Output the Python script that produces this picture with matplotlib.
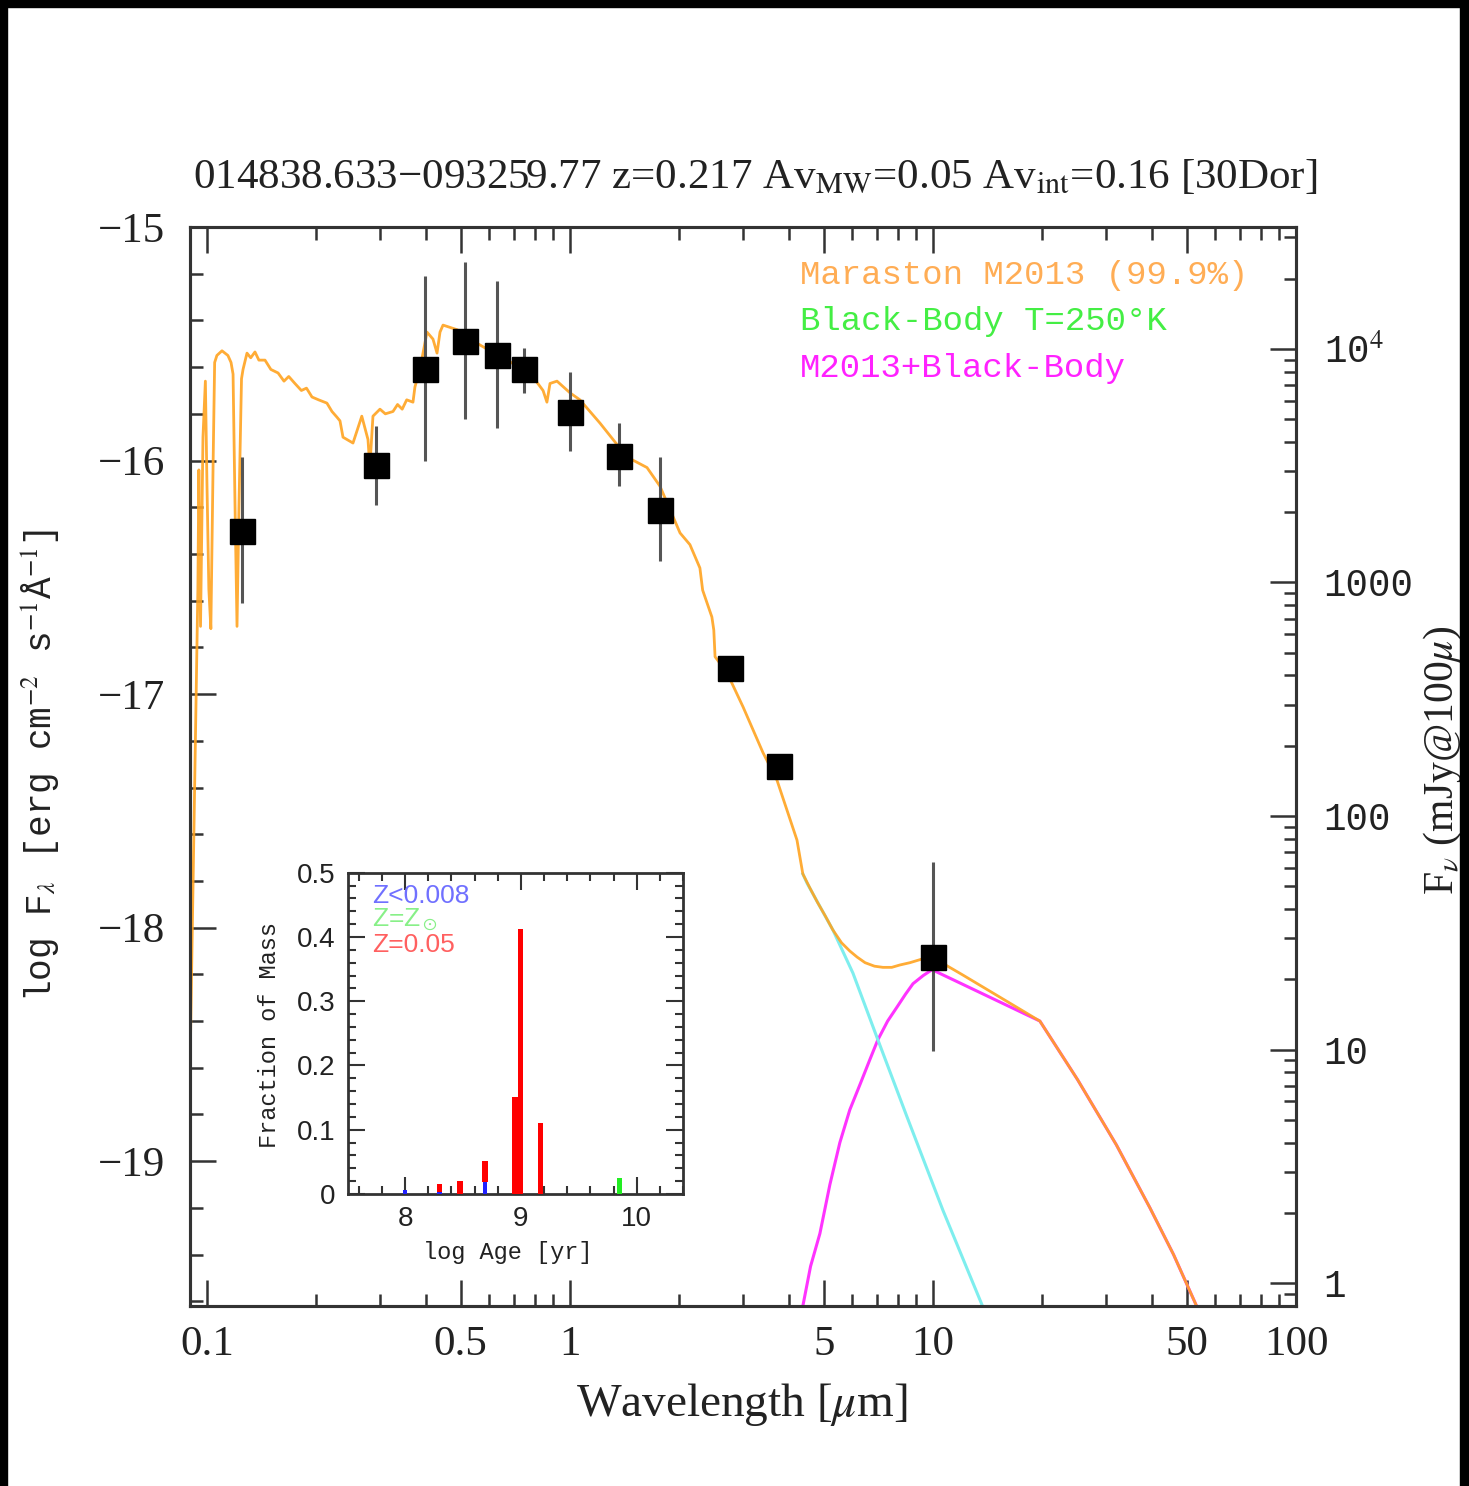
import numpy as np
import matplotlib
matplotlib.use('Agg')
import matplotlib.pyplot as plt
from matplotlib.ticker import FixedLocator, MultipleLocator, NullFormatter
from matplotlib.patches import Rectangle

plt.rcParams['font.family'] = ['Liberation Serif', 'DejaVu Serif']
plt.rcParams['mathtext.fontset'] = 'stix'

# model SED (Maraston M2013 + black body), wavelength in micron, log F_lambda
wave_model = [0.0898, 0.0944, 0.0950, 0.0960, 0.0975, 0.0990, 0.1000, 0.1012, 0.1025, 0.1040,
              0.1050, 0.1065, 0.110, 0.1142, 0.1165, 0.118, 0.1195, 0.1210, 0.1225, 0.1245,
              0.1257, 0.1289, 0.132, 0.1356, 0.139, 0.1445, 0.150, 0.157, 0.163, 0.168,
              0.1747, 0.182, 0.188, 0.1947, 0.203, 0.214, 0.221, 0.228, 0.2325, 0.237,
              0.2525, 0.267, 0.2777, 0.281, 0.2866, 0.2996, 0.31, 0.3254, 0.335, 0.345,
              0.355, 0.3694, 0.374, 0.386, 0.4037, 0.4194, 0.4303, 0.4385, 0.447, 0.489,
              0.530, 0.602, 0.670, 0.776, 0.843, 0.864, 0.881, 0.921, 1.0, 1.065,
              1.21, 1.436, 1.63, 1.77, 2.01, 2.14, 2.28, 2.32, 2.46, 2.49,
              2.51, 2.71, 3.00, 3.40, 3.72, 4.22, 4.38, 4.58, 4.80, 5.05,
              5.30, 5.60, 5.90, 6.18, 6.50, 6.90, 7.28, 7.70, 8.10, 8.64,
              9.30, 9.94, 12.0, 15.0, 19.7, 25.0, 32.0, 39.6, 46.0, 53.4, 60.0]
logf_model = [-18.61, -16.55, -16.04, -16.71, -15.90, -15.66, -16.10, -16.55, -16.72, -16.00,
              -15.58, -15.55, -15.53, -15.55, -15.58, -15.63, -16.20, -16.71, -16.20, -15.65,
              -15.61, -15.54, -15.56, -15.535, -15.57, -15.57, -15.61, -15.625, -15.66, -15.64,
              -15.67, -15.70, -15.69, -15.728, -15.74, -15.754, -15.79, -15.814, -15.83, -15.90,
              -15.925, -15.81, -15.91, -16.03, -15.81, -15.78, -15.80, -15.79, -15.76, -15.78,
              -15.74, -15.75, -15.685, -15.61, -15.45, -15.48, -15.54, -15.45, -15.42, -15.44,
              -15.48, -15.53, -15.57, -15.625, -15.70, -15.75, -15.67, -15.66, -15.71, -15.74,
              -15.84, -15.985, -16.03, -16.11, -16.31, -16.36, -16.46, -16.555, -16.67, -16.726,
              -16.84, -16.91, -17.056, -17.25, -17.37, -17.625, -17.77, -17.83, -17.89, -17.95,
              -18.01, -18.065, -18.10, -18.126, -18.15, -18.165, -18.17, -18.17, -18.16, -18.15,
              -18.135, -18.126, -18.20, -18.29, -18.40, -18.65, -18.93, -19.20, -19.40, -19.625, -19.90]

# stellar component alone (cyan) beyond the dust bump
wave_star = [4.38, 4.50, 5.30, 6.02, 7.01, 8.48, 10.65, 13.73, 15.0]
logf_star = [-17.77, -17.81, -18.01, -18.195, -18.47, -18.81, -19.21, -19.625, -19.78]

# black-body / combined (magenta)
wave_bb = [4.25, 4.38, 4.60, 4.88, 5.20, 5.54, 5.90, 6.30, 6.70, 7.05, 7.50, 7.96, 8.40, 8.81,
           9.40, 9.94, 19.7, 25.0, 32.0, 39.6, 46.0, 53.4, 60.0]
logf_bb = [-19.95, -19.62, -19.45, -19.31, -19.10, -18.92, -18.78, -18.67, -18.565, -18.48,
           -18.40, -18.34, -18.285, -18.24, -18.205, -18.18, -18.40, -18.65, -18.93, -19.20,
           -19.40, -19.625, -19.90]

# photometry
phot_wave = [0.125, 0.292, 0.399, 0.514, 0.630, 0.747, 1.0, 1.365, 1.77, 2.76, 3.77, 10.0]
phot_logf = [-16.30, -16.02, -15.61, -15.49, -15.55, -15.61, -15.79, -15.98, -16.21, -16.89, -17.31, -18.126]
phot_hi = [-15.985, -15.85, -15.21, -15.15, -15.23, -15.52, -15.62, -15.84, -15.985, -16.86, -17.28, -17.72]
phot_lo = [-16.61, -16.19, -16.00, -15.82, -15.86, -15.71, -15.96, -16.11, -16.43, -16.92, -17.34, -18.53]

# inset: star formation history
age_blue = [8.0, 8.30, 8.69]
frac_blue = [0.006, 0.003, 0.019]
age_red = [8.30, 8.475, 8.69, 8.95, 9.0, 9.17]
frac_red = [0.012, 0.02, 0.033, 0.151, 0.413, 0.11]
red_bottom = [0.003, 0.0, 0.019, 0.0, 0.0, 0.0]
age_green = [9.85]
frac_green = [0.025]

xmajor = [0.1, 0.5, 1, 5, 10, 50, 100]
xmajor_lab = ['0.1', '0.5', '1', '5', '10', '50', '100']

W, H = 1469, 1486
fig = plt.figure(figsize=(W / 100, H / 100), dpi=100)

ax = fig.add_axes([190 / W, 1 - 1306 / H, (1296 - 190) / W, (1306 - 227) / H])
spine_c = '#333333'
ax.set_xscale('log')
ax.set_xlim(0.0898, 100)
ax.set_ylim(-19.62, -15)

ax.plot(wave_bb, logf_bb, color='#ff33ff', lw=2.2, zorder=2)
ax.plot(wave_star, logf_star, color='#7eeeee', lw=2.2, zorder=2)
ax.plot(wave_model, logf_model, color='#ffa320', lw=2.0, zorder=3, alpha=0.9)

pw = np.array(phot_wave)
pf = np.array(phot_logf)
yerr = [pf - np.array(phot_lo), np.array(phot_hi) - pf]
ax.errorbar(pw, pf, yerr=yerr, fmt='none', ecolor='#555555', elinewidth=2.2, capsize=0, zorder=4)
ax.plot(pw, pf, 's', color='black', ms=18, zorder=5)

ax.xaxis.set_major_locator(FixedLocator(xmajor))
ax.set_xticklabels(xmajor_lab)
xminor = [m * 10.0 ** e for e in (-1, 0, 1) for m in range(2, 10) if m != 5]
ax.xaxis.set_minor_locator(FixedLocator(xminor))
ax.xaxis.set_minor_formatter(NullFormatter())
ax.yaxis.set_major_locator(MultipleLocator(1))
ax.yaxis.set_minor_locator(MultipleLocator(0.2))
ax.set_yticks([-15, -16, -17, -18, -19])
ax.set_yticklabels(['\u221215', '\u221216', '\u221217', '\u221218', '\u221219'])
ax.tick_params(which='both', direction='in', top=True, right=False, width=1.8, color=spine_c,
               labelcolor='#222222')
ax.tick_params(which='major', length=19, labelsize=31)
ax.tick_params(which='minor', length=9)
ax.tick_params(axis='x', pad=14)
ax.tick_params(axis='y', pad=18)
for s in ax.spines.values():
    s.set_linewidth(2.2)
    s.set_color(spine_c)

# right axis: F_nu in mJy at 100 micron
off = 19.522
ax2 = ax.twinx()
ax2.set_yscale('log')
ax2.set_ylim(10 ** (-19.62 + off), 10 ** (-15 + off))
ax2.yaxis.set_major_locator(FixedLocator([1, 10, 100, 1000, 1e4]))
ax2.set_yticklabels(['1', '10', '100', '1000', '10$^4$'], family='Liberation Mono')
ax2.yaxis.set_minor_locator(FixedLocator([m * 10.0 ** e for e in range(-1, 5) for m in range(2, 10)]))
ax2.yaxis.set_minor_formatter(NullFormatter())
ax2.tick_params(which='both', direction='in', width=1.8, color=spine_c, labelcolor='#222222')
ax2.tick_params(which='major', length=19, labelsize=27, pad=20)
ax2.tick_params(which='minor', length=9)
for s in ax2.spines.values():
    s.set_linewidth(2.2)
    s.set_color(spine_c)

# legend texts
mono = 'Liberation Mono'
ax.text(0.5515, 0.9546, 'Maraston M2013 (99.9%)', transform=ax.transAxes, color='#ffad55',
        fontsize=24.5, family=mono, va='center', ha='left')
ax.text(0.5515, 0.912, 'Black-Body T=250\u00b0K', transform=ax.transAxes, color='#44ee44',
        fontsize=24.5, family=mono, va='center', ha='left')
ax.text(0.5515, 0.8693, 'M2013+Black-Body', transform=ax.transAxes, color='#ff22ff',
        fontsize=24.5, family=mono, va='center', ha='left')

fig.text(755 / W, 1 - 177 / H,
         '014838.633\u2212093259.77 z=0.217 Av$_{\\rm MW}$=0.05 Av$_{\\rm int}$=0.16 [30Dor]',
         fontsize=31, ha='center', va='center', color='#222222')
fig.text(742 / W, 1 - 1405 / H, 'Wavelength [$\\mu$m]', fontsize=34, ha='center', va='center',
         color='#222222')
fig.text(40 / W, 1 - 765 / H, 'log F$_\\lambda$ [erg cm$^{-2}$ s$^{-1}$\u00c5$^{-1}$]', fontsize=26,
         family=mono, rotation=90, ha='center', va='center', color='#222222')
fig.text(1443 / W, 1 - 760 / H, 'F$_\\nu$ (mJy@100$\\mu$)', fontsize=30, rotation=90,
         ha='center', va='center', color='#222222')

# inset
ins = fig.add_axes([347.7 / W, 1 - 1194 / H, (683 - 347.7) / W, (1194 - 872.7) / H])
ins.bar(age_blue, frac_blue, width=0.04, color='#2020ff', zorder=3)
ins.bar(age_red, frac_red, width=0.045, bottom=red_bottom, color='#ff0000', zorder=3)
ins.bar(age_green, frac_green, width=0.04, color='#22ee22', zorder=3)
ins.set_xlim(7.505, 10.4)
ins.set_ylim(0, 0.5)
ins.xaxis.set_major_locator(MultipleLocator(1))
ins.xaxis.set_minor_locator(MultipleLocator(0.2))
ins.yaxis.set_major_locator(MultipleLocator(0.1))
ins.yaxis.set_minor_locator(MultipleLocator(0.02))
ins.set_yticks([0, 0.1, 0.2, 0.3, 0.4, 0.5])
ins.set_yticklabels(['0', '0.1', '0.2', '0.3', '0.4', '0.5'])
ins.tick_params(which='both', direction='in', top=True, right=True, width=1.5, color=spine_c,
                labelcolor='#222222')
ins.tick_params(which='major', length=12, labelsize=20)
ins.tick_params(axis='x', pad=9)
ins.tick_params(axis='y', pad=9)
ins.tick_params(which='minor', length=6)
for lab in ins.get_xticklabels() + ins.get_yticklabels():
    lab.set_family('Liberation Sans')
for s in ins.spines.values():
    s.set_linewidth(2.0)
    s.set_color(spine_c)
ins.text(0.0725, 0.9275, 'Z<0.008', transform=ins.transAxes, color='#7070ff', fontsize=19,
         family='Liberation Sans', va='center')
ins.text(0.0725, 0.853, 'Z=Z$_\\odot$', transform=ins.transAxes, color='#88f088', fontsize=19,
         family='Liberation Sans', va='center')
ins.text(0.0725, 0.775, 'Z=0.05', transform=ins.transAxes, color='#ff6060', fontsize=19,
         family='Liberation Sans', va='center')
fig.text(270 / W, 1 - 1035 / H, 'Fraction of Mass', fontsize=17, family=mono, rotation=90,
         ha='center', va='center', color='#222222')
fig.text(508 / W, 1 - 1252 / H, 'log Age [yr]', fontsize=17, family=mono, ha='center',
         va='center', color='#222222')

# black borders of the screenshot
fig.add_artist(Rectangle((0, 1 - 7 / H), 1, 7 / H, transform=fig.transFigure, color='black', zorder=10))
fig.add_artist(Rectangle((0, 0), 7 / W, 1, transform=fig.transFigure, color='black', zorder=10))
fig.add_artist(Rectangle((1460 / W, 0), 9 / W, 1, transform=fig.transFigure, color='black', zorder=10))

fig.savefig('out.png', dpi=100)
